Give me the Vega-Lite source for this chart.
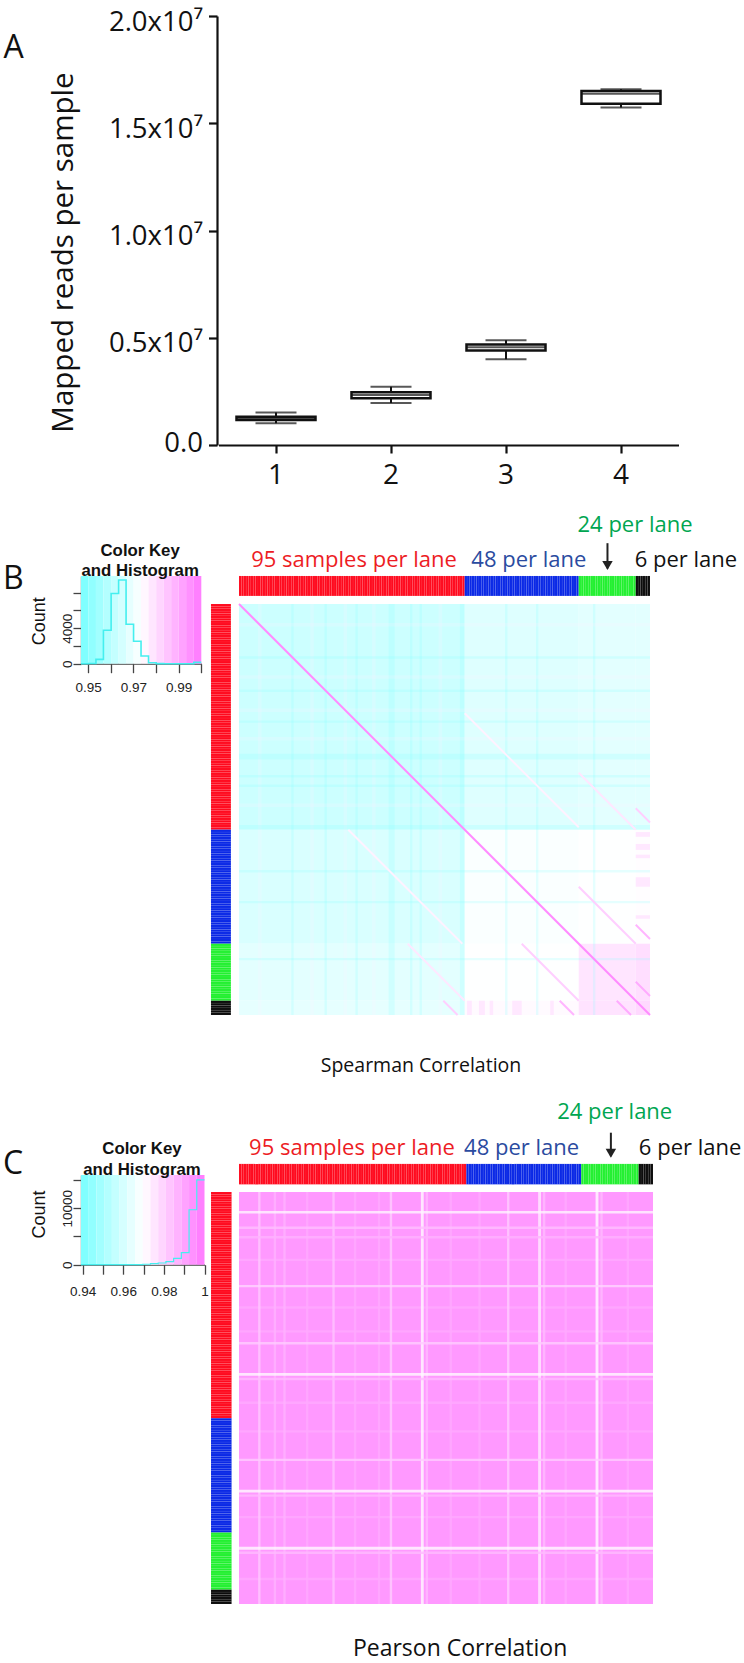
{"$schema":"https://vega.github.io/schema/vega-lite/v6.json","width":744,"height":1663,"autosize":{"type":"fit","contains":"padding"},"padding":0,"background":"white","config":{"view":{"stroke":null},"axis":{"grid":false}},
"resolve":{"scale":{"x":"independent","y":"independent","color":"independent"},"axis":{"x":"independent","y":"independent"}},
"datasets":{
"box":[{"group":"1","lo":1010000,"q1":1170000,"med":1240000,"q3":1320000,"hi":1510000},{"group":"2","lo":1960000,"q1":2180000,"med":2330000,"q3":2460000,"hi":2720000},{"group":"3","lo":4000000,"q1":4400000,"med":4560000,"q3":4680000,"hi":4880000},{"group":"4","lo":15740000,"q1":15910000,"med":16380000,"q3":16500000,"hi":16580000}],
"histB":[{"lo":0.9469,"hi":0.9502,"r":0.9485,"n":0},{"lo":0.9502,"hi":0.9535,"r":0.9518,"n":20},{"lo":0.9535,"hi":0.9568,"r":0.9552,"n":490},{"lo":0.9568,"hi":0.9602,"r":0.9585,"n":3770},{"lo":0.9602,"hi":0.9635,"r":0.9618,"n":7920},{"lo":0.9635,"hi":0.9668,"r":0.9651,"n":9430},{"lo":0.9668,"hi":0.9701,"r":0.9685,"n":4450},{"lo":0.9701,"hi":0.9734,"r":0.9718,"n":2530},{"lo":0.9734,"hi":0.9767,"r":0.9751,"n":870},{"lo":0.9767,"hi":0.9801,"r":0.9784,"n":110},{"lo":0.9801,"hi":0.9834,"r":0.9817,"n":10},{"lo":0.9834,"hi":0.9867,"r":0.9851,"n":0},{"lo":0.9867,"hi":0.99,"r":0.9884,"n":0},{"lo":0.99,"hi":0.9933,"r":0.9917,"n":0},{"lo":0.9933,"hi":0.9967,"r":0.995,"n":0},{"lo":0.9967,"hi":1,"r":0.9984,"n":150},{"lo":1,"hi":1,"r":0.9984,"n":150}],
"histC":[{"lo":0.9392,"hi":0.943,"r":0.9411,"n":0},{"lo":0.943,"hi":0.9468,"r":0.9449,"n":0},{"lo":0.9468,"hi":0.9506,"r":0.9487,"n":0},{"lo":0.9506,"hi":0.9544,"r":0.9525,"n":0},{"lo":0.9544,"hi":0.9582,"r":0.9563,"n":0},{"lo":0.9582,"hi":0.962,"r":0.9601,"n":0},{"lo":0.962,"hi":0.9658,"r":0.9639,"n":10},{"lo":0.9658,"hi":0.9696,"r":0.9677,"n":30},{"lo":0.9696,"hi":0.9734,"r":0.9715,"n":80},{"lo":0.9734,"hi":0.9772,"r":0.9753,"n":175},{"lo":0.9772,"hi":0.981,"r":0.9791,"n":300},{"lo":0.981,"hi":0.9848,"r":0.9829,"n":530},{"lo":0.9848,"hi":0.9886,"r":0.9867,"n":1120},{"lo":0.9886,"hi":0.9924,"r":0.9905,"n":2130},{"lo":0.9924,"hi":0.9962,"r":0.9943,"n":9740},{"lo":0.9962,"hi":1,"r":0.9981,"n":15050},{"lo":1,"hi":1,"r":0.9981,"n":15050}],
"heatB":[{"x0":0,"x1":95,"y0":0,"y1":95,"r":0.9635},{"x0":95,"x1":143,"y0":0,"y1":95,"r":0.967},{"x0":143,"x1":167,"y0":0,"y1":95,"r":0.968},{"x0":167,"x1":173,"y0":0,"y1":95,"r":0.968},{"x0":0,"x1":95,"y0":95,"y1":143,"r":0.966},{"x0":95,"x1":143,"y0":95,"y1":143,"r":0.9725},{"x0":143,"x1":167,"y0":95,"y1":143,"r":0.9733},{"x0":167,"x1":173,"y0":95,"y1":143,"r":0.9738},{"x0":0,"x1":95,"y0":143,"y1":167,"r":0.968},{"x0":95,"x1":143,"y0":143,"y1":167,"r":0.9733},{"x0":143,"x1":167,"y0":143,"y1":167,"r":0.9785},{"x0":167,"x1":173,"y0":143,"y1":167,"r":0.98},{"x0":0,"x1":95,"y0":167,"y1":173,"r":0.9685},{"x0":95,"x1":143,"y0":167,"y1":173,"r":0.9745},{"x0":143,"x1":167,"y0":167,"y1":173,"r":0.979},{"x0":167,"x1":173,"y0":167,"y1":173,"r":0.981},{"x0":167,"x1":173,"y0":96,"y1":98,"r":0.978},{"x0":167,"x1":173,"y0":101,"y1":103.5,"r":0.978},{"x0":167,"x1":173,"y0":105.5,"y1":107,"r":0.978},{"x0":167,"x1":173,"y0":115,"y1":119,"r":0.978},{"x0":167,"x1":173,"y0":131,"y1":132.5,"r":0.978},{"x0":96,"x1":98,"y0":167,"y1":173,"r":0.978},{"x0":101,"x1":103.5,"y0":167,"y1":173,"r":0.978},{"x0":105.5,"x1":107,"y0":167,"y1":173,"r":0.978},{"x0":115,"x1":119,"y0":167,"y1":173,"r":0.978},{"x0":131,"x1":132.5,"y0":167,"y1":173,"r":0.978}],
"stripeB":[{"x0":8,"x1":9.5,"y0":0,"y1":173,"r":0.976},{"x0":30,"x1":31.5,"y0":0,"y1":173,"r":0.976},{"x0":44,"x1":45.5,"y0":0,"y1":173,"r":0.976},{"x0":56,"x1":57.5,"y0":0,"y1":173,"r":0.976},{"x0":84,"x1":85.5,"y0":0,"y1":173,"r":0.976},{"x0":22,"x1":23,"y0":0,"y1":173,"r":0.9485},{"x0":36,"x1":37,"y0":0,"y1":173,"r":0.9485},{"x0":49,"x1":50,"y0":0,"y1":173,"r":0.9485},{"x0":63,"x1":65.5,"y0":0,"y1":173,"r":0.9485},{"x0":72,"x1":73,"y0":0,"y1":173,"r":0.9485},{"x0":76,"x1":77,"y0":0,"y1":173,"r":0.9485},{"x0":93,"x1":95,"y0":0,"y1":173,"r":0.9485},{"x0":112,"x1":113,"y0":0,"y1":173,"r":0.9485},{"x0":125,"x1":126,"y0":0,"y1":173,"r":0.9485},{"x0":149,"x1":150,"y0":0,"y1":173,"r":0.9485},{"x0":0,"x1":173,"y0":8,"y1":9.5,"r":0.976},{"x0":0,"x1":173,"y0":30,"y1":31.5,"r":0.976},{"x0":0,"x1":173,"y0":44,"y1":45.5,"r":0.976},{"x0":0,"x1":173,"y0":56,"y1":57.5,"r":0.976},{"x0":0,"x1":173,"y0":84,"y1":85.5,"r":0.976},{"x0":0,"x1":173,"y0":22,"y1":23,"r":0.9485},{"x0":0,"x1":173,"y0":36,"y1":37,"r":0.9485},{"x0":0,"x1":173,"y0":49,"y1":50,"r":0.9485},{"x0":0,"x1":173,"y0":63,"y1":65.5,"r":0.9485},{"x0":0,"x1":173,"y0":72,"y1":73,"r":0.9485},{"x0":0,"x1":173,"y0":76,"y1":77,"r":0.9485},{"x0":0,"x1":173,"y0":93,"y1":95,"r":0.9485},{"x0":0,"x1":173,"y0":112,"y1":113,"r":0.9485},{"x0":0,"x1":173,"y0":125,"y1":126,"r":0.9485},{"x0":0,"x1":173,"y0":149,"y1":150,"r":0.9485}],
"lineB":[{"x0":95,"y0":46,"x1":143,"y1":94,"r":0.976},{"x0":46,"y0":95,"x1":94,"y1":143,"r":0.976},{"x0":143,"y0":71,"x1":167,"y1":95,"r":0.978},{"x0":71,"y0":143,"x1":95,"y1":167,"r":0.978},{"x0":167,"y0":86,"x1":173,"y1":92,"r":0.983},{"x0":86,"y0":167,"x1":92,"y1":173,"r":0.983},{"x0":143,"y0":119,"x1":167,"y1":143,"r":0.983},{"x0":119,"y0":143,"x1":143,"y1":167,"r":0.983},{"x0":167,"y0":135,"x1":173,"y1":141,"r":0.988},{"x0":135,"y0":167,"x1":141,"y1":173,"r":0.988},{"x0":167,"y0":159,"x1":173,"y1":165,"r":0.99},{"x0":159,"y0":167,"x1":165,"y1":173,"r":0.99},{"x0":0,"y0":0,"x1":173,"y1":173,"r":0.996}],
"heatC":[{"x0":0,"x1":173,"y0":0,"y1":173,"r":0.9925}],
"stripeC":[{"x0":28,"x1":29,"y0":0,"y1":173,"r":0.989},{"x0":48,"x1":49,"y0":0,"y1":173,"r":0.989},{"x0":58,"x1":59,"y0":0,"y1":173,"r":0.989},{"x0":88,"x1":89,"y0":0,"y1":173,"r":0.989},{"x0":100,"x1":101,"y0":0,"y1":173,"r":0.989},{"x0":136,"x1":137,"y0":0,"y1":173,"r":0.989},{"x0":162,"x1":163,"y0":0,"y1":173,"r":0.989},{"x0":0,"x1":173,"y0":28,"y1":29,"r":0.989},{"x0":0,"x1":173,"y0":48,"y1":49,"r":0.989},{"x0":0,"x1":173,"y0":58,"y1":59,"r":0.989},{"x0":0,"x1":173,"y0":88,"y1":89,"r":0.989},{"x0":0,"x1":173,"y0":100,"y1":101,"r":0.989},{"x0":0,"x1":173,"y0":136,"y1":137,"r":0.989},{"x0":0,"x1":173,"y0":162,"y1":163,"r":0.989},{"x0":8,"x1":9,"y0":0,"y1":173,"r":0.982},{"x0":14.5,"x1":15.5,"y0":0,"y1":173,"r":0.987},{"x0":18.5,"x1":19.5,"y0":0,"y1":173,"r":0.987},{"x0":39,"x1":40,"y0":0,"y1":173,"r":0.983},{"x0":63,"x1":64,"y0":0,"y1":173,"r":0.981},{"x0":76,"x1":77.2,"y0":0,"y1":173,"r":0.971},{"x0":78,"x1":79,"y0":0,"y1":173,"r":0.985},{"x0":112,"x1":113,"y0":0,"y1":173,"r":0.981},{"x0":125,"x1":126.2,"y0":0,"y1":173,"r":0.974},{"x0":127,"x1":128,"y0":0,"y1":173,"r":0.985},{"x0":149,"x1":150.2,"y0":0,"y1":173,"r":0.971},{"x0":151,"x1":152,"y0":0,"y1":173,"r":0.985},{"x0":0,"x1":173,"y0":8,"y1":9,"r":0.972},{"x0":0,"x1":173,"y0":14.5,"y1":15.5,"r":0.984},{"x0":0,"x1":173,"y0":18.5,"y1":19.5,"r":0.987},{"x0":0,"x1":173,"y0":39,"y1":40,"r":0.979},{"x0":0,"x1":173,"y0":63,"y1":64,"r":0.981},{"x0":0,"x1":173,"y0":76,"y1":77.2,"r":0.971},{"x0":0,"x1":173,"y0":78,"y1":79,"r":0.985},{"x0":0,"x1":173,"y0":112,"y1":113,"r":0.981},{"x0":0,"x1":173,"y0":125,"y1":126.2,"r":0.971},{"x0":0,"x1":173,"y0":127,"y1":128,"r":0.985},{"x0":0,"x1":173,"y0":149,"y1":150.2,"r":0.971},{"x0":0,"x1":173,"y0":151,"y1":152,"r":0.985}],
"bars":[{"a":0,"b":1,"l":"95"},{"a":1,"b":2,"l":"95"},{"a":2,"b":3,"l":"95"},{"a":3,"b":4,"l":"95"},{"a":4,"b":5,"l":"95"},{"a":5,"b":6,"l":"95"},{"a":6,"b":7,"l":"95"},{"a":7,"b":8,"l":"95"},{"a":8,"b":9,"l":"95"},{"a":9,"b":10,"l":"95"},{"a":10,"b":11,"l":"95"},{"a":11,"b":12,"l":"95"},{"a":12,"b":13,"l":"95"},{"a":13,"b":14,"l":"95"},{"a":14,"b":15,"l":"95"},{"a":15,"b":16,"l":"95"},{"a":16,"b":17,"l":"95"},{"a":17,"b":18,"l":"95"},{"a":18,"b":19,"l":"95"},{"a":19,"b":20,"l":"95"},{"a":20,"b":21,"l":"95"},{"a":21,"b":22,"l":"95"},{"a":22,"b":23,"l":"95"},{"a":23,"b":24,"l":"95"},{"a":24,"b":25,"l":"95"},{"a":25,"b":26,"l":"95"},{"a":26,"b":27,"l":"95"},{"a":27,"b":28,"l":"95"},{"a":28,"b":29,"l":"95"},{"a":29,"b":30,"l":"95"},{"a":30,"b":31,"l":"95"},{"a":31,"b":32,"l":"95"},{"a":32,"b":33,"l":"95"},{"a":33,"b":34,"l":"95"},{"a":34,"b":35,"l":"95"},{"a":35,"b":36,"l":"95"},{"a":36,"b":37,"l":"95"},{"a":37,"b":38,"l":"95"},{"a":38,"b":39,"l":"95"},{"a":39,"b":40,"l":"95"},{"a":40,"b":41,"l":"95"},{"a":41,"b":42,"l":"95"},{"a":42,"b":43,"l":"95"},{"a":43,"b":44,"l":"95"},{"a":44,"b":45,"l":"95"},{"a":45,"b":46,"l":"95"},{"a":46,"b":47,"l":"95"},{"a":47,"b":48,"l":"95"},{"a":48,"b":49,"l":"95"},{"a":49,"b":50,"l":"95"},{"a":50,"b":51,"l":"95"},{"a":51,"b":52,"l":"95"},{"a":52,"b":53,"l":"95"},{"a":53,"b":54,"l":"95"},{"a":54,"b":55,"l":"95"},{"a":55,"b":56,"l":"95"},{"a":56,"b":57,"l":"95"},{"a":57,"b":58,"l":"95"},{"a":58,"b":59,"l":"95"},{"a":59,"b":60,"l":"95"},{"a":60,"b":61,"l":"95"},{"a":61,"b":62,"l":"95"},{"a":62,"b":63,"l":"95"},{"a":63,"b":64,"l":"95"},{"a":64,"b":65,"l":"95"},{"a":65,"b":66,"l":"95"},{"a":66,"b":67,"l":"95"},{"a":67,"b":68,"l":"95"},{"a":68,"b":69,"l":"95"},{"a":69,"b":70,"l":"95"},{"a":70,"b":71,"l":"95"},{"a":71,"b":72,"l":"95"},{"a":72,"b":73,"l":"95"},{"a":73,"b":74,"l":"95"},{"a":74,"b":75,"l":"95"},{"a":75,"b":76,"l":"95"},{"a":76,"b":77,"l":"95"},{"a":77,"b":78,"l":"95"},{"a":78,"b":79,"l":"95"},{"a":79,"b":80,"l":"95"},{"a":80,"b":81,"l":"95"},{"a":81,"b":82,"l":"95"},{"a":82,"b":83,"l":"95"},{"a":83,"b":84,"l":"95"},{"a":84,"b":85,"l":"95"},{"a":85,"b":86,"l":"95"},{"a":86,"b":87,"l":"95"},{"a":87,"b":88,"l":"95"},{"a":88,"b":89,"l":"95"},{"a":89,"b":90,"l":"95"},{"a":90,"b":91,"l":"95"},{"a":91,"b":92,"l":"95"},{"a":92,"b":93,"l":"95"},{"a":93,"b":94,"l":"95"},{"a":94,"b":95,"l":"95"},{"a":95,"b":96,"l":"48"},{"a":96,"b":97,"l":"48"},{"a":97,"b":98,"l":"48"},{"a":98,"b":99,"l":"48"},{"a":99,"b":100,"l":"48"},{"a":100,"b":101,"l":"48"},{"a":101,"b":102,"l":"48"},{"a":102,"b":103,"l":"48"},{"a":103,"b":104,"l":"48"},{"a":104,"b":105,"l":"48"},{"a":105,"b":106,"l":"48"},{"a":106,"b":107,"l":"48"},{"a":107,"b":108,"l":"48"},{"a":108,"b":109,"l":"48"},{"a":109,"b":110,"l":"48"},{"a":110,"b":111,"l":"48"},{"a":111,"b":112,"l":"48"},{"a":112,"b":113,"l":"48"},{"a":113,"b":114,"l":"48"},{"a":114,"b":115,"l":"48"},{"a":115,"b":116,"l":"48"},{"a":116,"b":117,"l":"48"},{"a":117,"b":118,"l":"48"},{"a":118,"b":119,"l":"48"},{"a":119,"b":120,"l":"48"},{"a":120,"b":121,"l":"48"},{"a":121,"b":122,"l":"48"},{"a":122,"b":123,"l":"48"},{"a":123,"b":124,"l":"48"},{"a":124,"b":125,"l":"48"},{"a":125,"b":126,"l":"48"},{"a":126,"b":127,"l":"48"},{"a":127,"b":128,"l":"48"},{"a":128,"b":129,"l":"48"},{"a":129,"b":130,"l":"48"},{"a":130,"b":131,"l":"48"},{"a":131,"b":132,"l":"48"},{"a":132,"b":133,"l":"48"},{"a":133,"b":134,"l":"48"},{"a":134,"b":135,"l":"48"},{"a":135,"b":136,"l":"48"},{"a":136,"b":137,"l":"48"},{"a":137,"b":138,"l":"48"},{"a":138,"b":139,"l":"48"},{"a":139,"b":140,"l":"48"},{"a":140,"b":141,"l":"48"},{"a":141,"b":142,"l":"48"},{"a":142,"b":143,"l":"48"},{"a":143,"b":144,"l":"24"},{"a":144,"b":145,"l":"24"},{"a":145,"b":146,"l":"24"},{"a":146,"b":147,"l":"24"},{"a":147,"b":148,"l":"24"},{"a":148,"b":149,"l":"24"},{"a":149,"b":150,"l":"24"},{"a":150,"b":151,"l":"24"},{"a":151,"b":152,"l":"24"},{"a":152,"b":153,"l":"24"},{"a":153,"b":154,"l":"24"},{"a":154,"b":155,"l":"24"},{"a":155,"b":156,"l":"24"},{"a":156,"b":157,"l":"24"},{"a":157,"b":158,"l":"24"},{"a":158,"b":159,"l":"24"},{"a":159,"b":160,"l":"24"},{"a":160,"b":161,"l":"24"},{"a":161,"b":162,"l":"24"},{"a":162,"b":163,"l":"24"},{"a":163,"b":164,"l":"24"},{"a":164,"b":165,"l":"24"},{"a":165,"b":166,"l":"24"},{"a":166,"b":167,"l":"24"},{"a":167,"b":168,"l":"6"},{"a":168,"b":169,"l":"6"},{"a":169,"b":170,"l":"6"},{"a":170,"b":171,"l":"6"},{"a":171,"b":172,"l":"6"},{"a":172,"b":173,"l":"6"}]
},
"layer":[
{"data":{"name":"box"},"mark":{"type":"rule","opacity":0},"encoding":{"y":{"field":"lo","type":"quantitative","scale":{"domain":[0,20000000],"range":[445,16]},"axis":{"orient":"left","offset":-217,"values":[0,5000000,10000000,15000000,20000000],"title":"Mapped reads per sample","titleFont":"Open Sans","titleFontSize":29.5,"titleFontWeight":"normal","titleColor":"#111","titleX":-139,"titleY":252,"labelExpr":"datum.value==0?'0.0\u00a0\u00a0':format(datum.value/10000000,'.1f')+'x10\u2077'","labelFont":"Open Sans","labelFontSize":27.5,"labelColor":"#111","labelPadding":6,"labelOffset":{"condition":{"test":"datum.value==0","value":-2},"value":6},"tickSize":8.5,"tickWidth":2.2,"tickColor":"#111","domainWidth":2.2,"domainColor":"#111"}}}},
{"data":{"name":"box"},"encoding":{"x":{"field":"group","type":"ordinal","scale":{"domain":["1","2","3","4"],"range":[218.5,678.5],"paddingInner":0,"paddingOuter":0},"axis":{"orient":"bottom","offset":-1218,"title":null,"labelAngle":0,"labelFont":"Open Sans","labelFontSize":28,"labelColor":"#111","labelPadding":8,"tickSize":8,"tickWidth":2.2,"tickColor":"#111","domainWidth":2.2,"domainColor":"#111"}}},
"layer":[
{"mark":{"type":"rule","color":"#111","strokeWidth":2},"encoding":{"y":{"field":"lo","type":"quantitative","scale":{"domain":[0,20000000],"range":[445,16]},"axis":null},"y2":{"field":"hi"}}},
{"mark":{"type":"tick","color":"#111","size":41,"thickness":2},"encoding":{"y":{"field":"lo","type":"quantitative","axis":null}}},
{"mark":{"type":"tick","color":"#111","size":41,"thickness":2},"encoding":{"y":{"field":"hi","type":"quantitative","axis":null}}},
{"mark":{"type":"bar","width":79,"fill":"white","stroke":"#111","strokeWidth":2.5},"encoding":{"y":{"field":"q1","type":"quantitative","axis":null},"y2":{"field":"q3"}}},
{"mark":{"type":"tick","color":"#111","size":79,"thickness":2},"encoding":{"y":{"field":"med","type":"quantitative","axis":null}}}
]},
{"data":{"values":[{"g":-1.37,"v":18500000,"t":"A"}]},"mark":{"type":"text","font":"Open Sans","fontSize":32,"align":"left","baseline":"middle","color":"#111"},"encoding":{"x":{"field":"g","type":"quantitative","scale":{"domain":[0.5,4.5],"range":[218.5,678.5]},"axis":null},"y":{"field":"v","type":"quantitative","scale":{"domain":[0,20000000],"range":[445,16]},"axis":null},"text":{"field":"t"}}},

{"encoding":{"x":{"field":"lo","type":"quantitative","scale":{"domain":[0.9469,1],"range":[81,201.3]},"axis":{"orient":"bottom","offset":-999.3,"values":[0.95,0.96,0.97,0.98,0.99,1],"title":null,"labelExpr":"datum.value==0.95?'0.95':datum.value==0.97?'0.97':datum.value==0.99?'0.99':''","labelFont":"Liberation Sans","labelFontSize":13.5,"labelColor":"#222","labelPadding":8,"labelOverlap":false,"labelFlush":false,"tickSize":9,"tickColor":"#444","tickWidth":1.3,"domainColor":"#444","domainWidth":1.3}},"y":{"field":"n","type":"quantitative","scale":{"domain":[0,9887],"range":[663.7,576]},"axis":null}},
"layer":[
{"data":{"name":"histB"},"mark":{"type":"rect"},"encoding":{"x2":{"field":"hi"},"y":{"datum":0,"scale":{"domain":[0,9887],"range":[663.7,576]},"axis":null},"y2":{"datum":9887},"color":{"field":"r","type":"quantitative","scale":{"domain":[0.9485,0.9735,0.9984],"range":["#80FFFF","#FFFFFF","#FF80FF"],"interpolate":"rgb"},"legend":null}}},
{"data":{"name":"histB"},"mark":{"type":"line","interpolate":"step-after","color":"#45EFEF","strokeWidth":1.6}},
{"data":{"values":[{"lo":0.973,"n":12740,"t":"Color Key"},{"lo":0.973,"n":10490,"t":"and Histogram"}]},"mark":{"type":"text","font":"Liberation Sans","fontWeight":"bold","fontSize":16.8,"baseline":"middle","color":"#111"},"encoding":{"text":{"field":"t"}}}
]},
{"data":{"name":"histB"},"mark":{"type":"rule","opacity":0},"encoding":{"y":{"field":"n","type":"quantitative","scale":{"domain":[0,9887],"range":[663.7,576]},"axis":{"orient":"left","offset":-81,"values":[0,2000,4000,6000,8000],"title":"Count","titleFont":"Liberation Sans","titleFontSize":18,"titleFontWeight":"normal","titleColor":"#111","titleX":-33,"titleY":620.7,"labelExpr":"datum.value==0?'0':datum.value==4000?'4000':''","labelFont":"Liberation Sans","labelFontSize":13.5,"labelColor":"#222","labelAngle":-90,"labelAlign":"center","labelBaseline":"bottom","labelPadding":-1,"labelOverlap":false,"tickSize":8,"tickColor":"#444","tickWidth":1.3,"domainColor":"#444","domainWidth":1.3}}}},
{"encoding":{"x":{"field":"x0","type":"quantitative","scale":{"domain":[0,173],"range":[239,650]},"axis":null},"x2":{"field":"x1"},"y":{"field":"y0","type":"quantitative","scale":{"domain":[0,173],"range":[604,1015]},"axis":null},"y2":{"field":"y1"},"color":{"field":"r","type":"quantitative","scale":{"domain":[0.9485,0.9735,0.9984],"range":["#80FFFF","#FFFFFF","#FF80FF"],"interpolate":"rgb"},"legend":null}},
"layer":[
{"data":{"name":"heatB"},"mark":{"type":"rect"}},
{"data":{"name":"stripeB"},"mark":{"type":"rect","opacity":0.2}},
{"data":{"name":"lineB"},"mark":{"type":"rule","strokeWidth":2}}
]},
{"data":{"name":"bars"},"encoding":{"color":{"field":"l","type":"nominal","scale":{"domain":["95","48","24","6"],"range":["#FF0A1E","#0A28E6","#22F030","#0C0C0C"]},"legend":null}},
"layer":[
{"mark":{"type":"rect","stroke":"white","strokeOpacity":0.12,"strokeWidth":0.4},"encoding":{"x":{"field":"a","type":"quantitative","scale":{"domain":[0,173],"range":[239,650]},"axis":null},"x2":{"field":"b"},"y":{"datum":-11.8,"scale":{"domain":[0,173],"range":[604,1015]},"axis":null},"y2":{"datum":-3.4}}},
{"mark":{"type":"rect","stroke":"white","strokeOpacity":0.12,"strokeWidth":0.4},"encoding":{"y":{"field":"a","type":"quantitative","scale":{"domain":[0,173],"range":[604,1015]},"axis":null},"y2":{"field":"b"},"x":{"datum":-11.8,"scale":{"domain":[0,173],"range":[239,650]},"axis":null},"x2":{"datum":-3.4}}}
]},
{"encoding":{"x":{"field":"s","type":"quantitative","scale":{"domain":[0,173],"range":[239,650]},"axis":null},"y":{"field":"h","type":"quantitative","scale":{"domain":[0,173],"range":[604,1015]},"axis":null}},
"layer":[
{"data":{"values":[{"t":"95 samples per lane","l":"95","s":48.4,"h":-18.5},{"t":"48 per lane","l":"48","s":122,"h":-18.5},{"t":"24 per lane","l":"24","s":166.7,"h":-33.2},{"t":"6 per lane","l":"6","s":188.1,"h":-18.5}]},"mark":{"type":"text","font":"Open Sans","fontSize":22,"baseline":"middle"},"encoding":{"text":{"field":"t"},"color":{"field":"l","type":"nominal","scale":{"domain":["95","48","24","6","n"],"range":["#ED1C24","#2B4BA0","#00A651","#111111","#111111"]},"legend":null}}},
{"data":{"values":[{"t":"Spearman Correlation","s":76.6,"h":194.4}]},"mark":{"type":"text","font":"Open Sans","fontSize":19.5,"baseline":"middle","color":"#111"},"encoding":{"text":{"field":"t"}}},
{"data":{"values":[{"t":"B","s":-99.3,"h":-10.5}]},"mark":{"type":"text","font":"Open Sans","fontSize":32,"baseline":"middle","align":"left","color":"#111"},"encoding":{"text":{"field":"t"}}},
{"data":{"values":[{"s":155.1,"h":-25.6,"h2":-15}]},"mark":{"type":"rule","color":"#222","strokeWidth":2},"encoding":{"y2":{"field":"h2"}}},
{"data":{"values":[{"s":155.1,"h":-16.2}]},"mark":{"type":"point","shape":"triangle-down","filled":true,"size":110,"color":"#222","opacity":1}}
]},

{"encoding":{"x":{"field":"lo","type":"quantitative","scale":{"domain":[0.9392,1],"range":[81,204.5]},"axis":{"orient":"bottom","offset":-398.3,"values":[0.94,0.95,0.96,0.97,0.98,0.99,1],"title":null,"labelExpr":"datum.value==0.94?'0.94':datum.value==0.96?'0.96':datum.value==0.98?'0.98':datum.value==1?'1':''","labelFont":"Liberation Sans","labelFontSize":13.5,"labelColor":"#222","labelPadding":10,"labelOverlap":false,"labelFlush":false,"tickSize":9.5,"tickColor":"#444","tickWidth":1.3,"domainColor":"#444","domainWidth":1.3}},"y":{"field":"n","type":"quantitative","scale":{"domain":[0,15900],"range":[1264.7,1175]},"axis":null}},
"layer":[
{"data":{"name":"histC"},"mark":{"type":"rect"},"encoding":{"x2":{"field":"hi"},"y":{"datum":0,"scale":{"domain":[0,15900],"range":[1264.7,1175]},"axis":null},"y2":{"datum":15900},"color":{"field":"r","type":"quantitative","scale":{"domain":[0.9411,0.9696,0.9981],"range":["#80FFFF","#FFFFFF","#FF80FF"],"interpolate":"rgb"},"legend":null}}},
{"data":{"name":"histC"},"mark":{"type":"line","interpolate":"step-after","color":"#45EFEF","strokeWidth":1.2}},
{"data":{"values":[{"lo":0.9692,"n":20450,"t":"Color Key"},{"lo":0.9692,"n":16785,"t":"and Histogram"}]},"mark":{"type":"text","font":"Liberation Sans","fontWeight":"bold","fontSize":16.8,"baseline":"middle","color":"#111"},"encoding":{"text":{"field":"t"}}}
]},
{"data":{"name":"histC"},"mark":{"type":"rule","opacity":0},"encoding":{"y":{"field":"n","type":"quantitative","scale":{"domain":[0,15900],"range":[1264.7,1175]},"axis":{"orient":"left","offset":-81,"values":[0,5000,10000,15000],"title":"Count","titleFont":"Liberation Sans","titleFontSize":18,"titleFontWeight":"normal","titleColor":"#111","titleX":-33,"titleY":1214,"labelExpr":"datum.value==0?'0':datum.value==10000?'10000':''","labelFont":"Liberation Sans","labelFontSize":13.5,"labelColor":"#222","labelAngle":-90,"labelAlign":"center","labelBaseline":"bottom","labelPadding":-1,"labelOverlap":false,"tickSize":8,"tickColor":"#444","tickWidth":1.3,"domainColor":"#444","domainWidth":1.3}}}},
{"encoding":{"x":{"field":"x0","type":"quantitative","scale":{"domain":[0,173],"range":[239,653]},"axis":null},"x2":{"field":"x1"},"y":{"field":"y0","type":"quantitative","scale":{"domain":[0,173],"range":[1192,1604]},"axis":null},"y2":{"field":"y1"},"color":{"field":"r","type":"quantitative","scale":{"domain":[0.9411,0.9696,0.9981],"range":["#80FFFF","#FFFFFF","#FF80FF"],"interpolate":"rgb"},"legend":null}},
"layer":[
{"data":{"name":"heatC"},"mark":{"type":"rect"}},
{"data":{"name":"stripeC"},"mark":{"type":"rect","opacity":0.8}}
]},
{"data":{"name":"bars"},"encoding":{"color":{"field":"l","type":"nominal","scale":{"domain":["95","48","24","6"],"range":["#FF0A1E","#0A28E6","#22F030","#0C0C0C"]},"legend":null}},
"layer":[
{"mark":{"type":"rect","stroke":"white","strokeOpacity":0.12,"strokeWidth":0.4},"encoding":{"x":{"field":"a","type":"quantitative","scale":{"domain":[0,173],"range":[239,653]},"axis":null},"x2":{"field":"b"},"y":{"datum":-11.8,"scale":{"domain":[0,173],"range":[1192,1604]},"axis":null},"y2":{"datum":-3.2}}},
{"mark":{"type":"rect","stroke":"white","strokeOpacity":0.12,"strokeWidth":0.4},"encoding":{"y":{"field":"a","type":"quantitative","scale":{"domain":[0,173],"range":[1192,1604]},"axis":null},"y2":{"field":"b"},"x":{"datum":-11.7,"scale":{"domain":[0,173],"range":[239,653]},"axis":null},"x2":{"datum":-3.1}}}
]},
{"encoding":{"x":{"field":"s","type":"quantitative","scale":{"domain":[0,173],"range":[239,653]},"axis":null},"y":{"field":"h","type":"quantitative","scale":{"domain":[0,173],"range":[1192,1604]},"axis":null}},
"layer":[
{"data":{"values":[{"t":"95 samples per lane","l":"95","s":47.2,"h":-18.3},{"t":"48 per lane","l":"48","s":118.1,"h":-18.3},{"t":"24 per lane","l":"24","s":157,"h":-33.6},{"t":"6 per lane","l":"6","s":188.5,"h":-18.3}]},"mark":{"type":"text","font":"Open Sans","fontSize":22,"baseline":"middle"},"encoding":{"text":{"field":"t"},"color":{"field":"l","type":"nominal","scale":{"domain":["95","48","24","6","n"],"range":["#ED1C24","#2B4BA0","#00A651","#111111","#111111"]},"legend":null}}},
{"data":{"values":[{"t":"Pearson Correlation","s":92.4,"h":191.9}]},"mark":{"type":"text","font":"Open Sans","fontSize":23,"baseline":"middle","color":"#111"},"encoding":{"text":{"field":"t"}}},
{"data":{"values":[{"t":"C","s":-98.6,"h":-11.9}]},"mark":{"type":"text","font":"Open Sans","fontSize":32,"baseline":"middle","align":"left","color":"#111"},"encoding":{"text":{"field":"t"}}},
{"data":{"values":[{"s":155.4,"h":-24.9,"h2":-15}]},"mark":{"type":"rule","color":"#222","strokeWidth":2},"encoding":{"y2":{"field":"h2"}}},
{"data":{"values":[{"s":155.4,"h":-16.3}]},"mark":{"type":"point","shape":"triangle-down","filled":true,"size":110,"color":"#222","opacity":1}}
]}
]}
